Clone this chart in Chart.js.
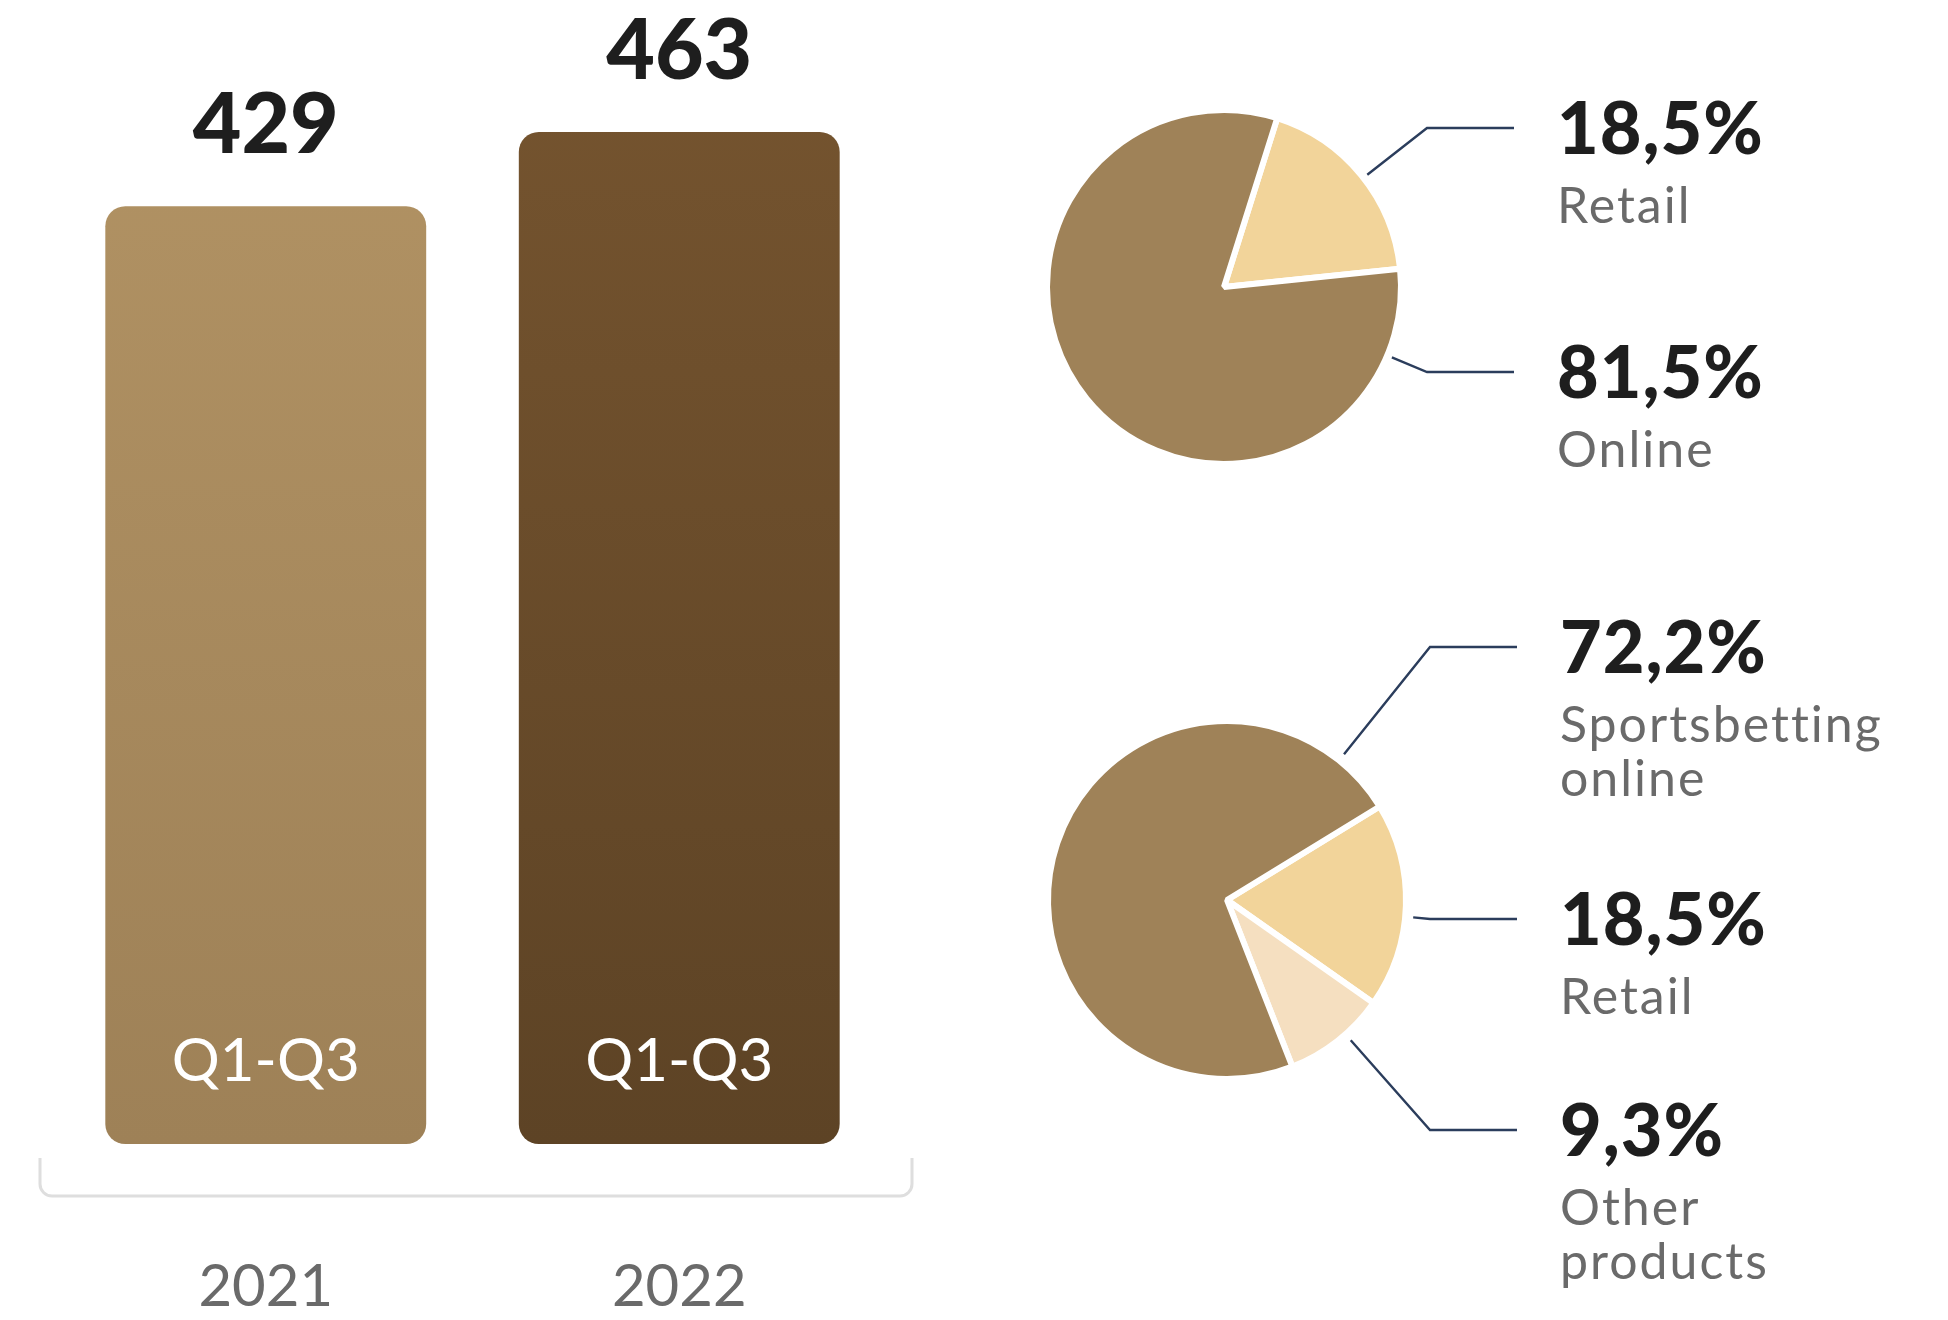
<!DOCTYPE html>
<html>
<head>
<meta charset="utf-8">
<title>Revenue Q1-Q3</title>
<script src="https://cdn.jsdelivr.net/npm/chart.js@4.4.0/dist/chart.umd.min.js"></script>
<style>
  html, body { margin: 0; padding: 0; background: #fff; }
  #wrap { position: relative; width: 1948px; height: 1320px; overflow: hidden; }
  canvas { position: absolute; }
  #bars { left: 0; top: 0; }
  #channels { left: 1000px; top: 0; }
  #products { left: 1000px; top: 613px; }
</style>
</head>
<body>
<div id="wrap">
  <canvas id="bars" width="950" height="1320"></canvas>
  <canvas id="channels" width="948" height="613"></canvas>
  <canvas id="products" width="948" height="707"></canvas>
</div>
<script>
const years = ['2021', '2022'];
const periods = ['Q1-Q3', 'Q1-Q3'];
const revenue = [429, 463];

const channelLabels = [['Retail'], ['Online']];
const channelShares = [18.5, 81.5];

const productLabels = [['Retail'], ['Other', 'products'], ['Sportsbetting', 'online']];
const productShares = [18.5, 9.3, 72.2];

const FONT = 'Lato, "Noto Sans", sans-serif';
const DARK = '#1e1e1e';
const GREY = '#6a6a6a';
const LEADER = '#2b3d5c';

const barShades = [['#b29364', '#9e8157'], ['#75542f', '#5d4325']];
const channelColours = ['#f2d49a', '#9f8258'];
const productColours = ['#f2d49a', '#f5dfc0', '#9f8258'];

const pct = v => v.toFixed(1).replace('.', ',') + '%';

// vertical gradient per bar, spanning the plot area
function barFill(ctx) {
  const { chart, dataIndex } = ctx;
  const area = chart.chartArea;
  if (!area) return barShades[dataIndex][0];
  const g = chart.ctx.createLinearGradient(0, area.top, 0, area.bottom);
  g.addColorStop(0, barShades[dataIndex][0]);
  g.addColorStop(1, barShades[dataIndex][1]);
  return g;
}

// value above each bar, period inside it, bracket under the pair
const barLabels = {
  id: 'barLabels',
  afterDatasetsDraw(chart) {
    const { ctx, chartArea, scales } = chart;
    const meta = chart.getDatasetMeta(0);
    const base = scales.y.getPixelForValue(0);
    ctx.save();
    ctx.textAlign = 'center';
    ctx.textBaseline = 'alphabetic';
    meta.data.forEach((bar, i) => {
      ctx.fillStyle = DARK;
      ctx.font = `900 84px ${FONT}`;
      ctx.fillText(String(revenue[i]), bar.x, bar.y - 53);
      ctx.fillStyle = '#ffffff';
      ctx.font = `60px ${FONT}`;
      ctx.fillText(periods[i], bar.x, base - 63);
    });

    const l = chartArea.left - 19, r = chartArea.right + 26;
    const t = base + 14, b = base + 52, rad = 12;
    ctx.strokeStyle = '#dedede';
    ctx.lineWidth = 3;
    ctx.beginPath();
    ctx.moveTo(l, t);
    ctx.lineTo(l, b - rad);
    ctx.arcTo(l, b, l + rad, b, rad);
    ctx.lineTo(r - rad, b);
    ctx.arcTo(r, b, r, b - rad, rad);
    ctx.lineTo(r, t);
    ctx.stroke();
    ctx.restore();
  }
};

// leader line + percentage + name for every slice
const callouts = {
  id: 'callouts',
  afterDatasetsDraw(chart, args, opts) {
    const { ctx } = chart;
    const meta = chart.getDatasetMeta(0);
    const values = chart.data.datasets[0].data;
    const first = meta.data[0];
    const cx = first.x, cy = first.y, r = first.outerRadius + opts.gap;
    ctx.save();
    meta.data.forEach((arc, i) => {
      const ex = cx + opts.elbowX, ey = cy + opts.elbows[i];
      const a = Math.atan2(ey - cy, ex - cx);
      ctx.strokeStyle = LEADER;
      ctx.lineWidth = 2.4;
      ctx.beginPath();
      ctx.moveTo(cx + Math.cos(a) * r, cy + Math.sin(a) * r);
      ctx.lineTo(ex, ey);
      ctx.lineTo(cx + opts.lineEnd, ey);
      ctx.stroke();

      const tx = cx + opts.textX, base = ey + 26;
      ctx.textAlign = 'left';
      ctx.textBaseline = 'alphabetic';
      ctx.fillStyle = DARK;
      ctx.letterSpacing = '1px';
      ctx.font = `900 72px ${FONT}`;
      ctx.fillText(pct(values[i]), tx, base);
      ctx.fillStyle = GREY;
      ctx.letterSpacing = '2px';
      ctx.font = `50px ${FONT}`;
      opts.names[i].forEach((line, k) => ctx.fillText(line, tx, base + 69 + k * 54));
    });
    ctx.restore();
  }
};

function pieChart(id, names, shares, colours, rotation, padding, elbows, gap) {
  return new Chart(id, {
    type: 'pie',
    data: {
      labels: names.map(n => n.join(' ')),
      datasets: [{
        data: shares,
        backgroundColor: colours,
        borderColor: '#ffffff',
        borderWidth: 6
      }]
    },
    options: {
      responsive: false,
      animation: false,
      rotation: rotation,
      layout: { padding: padding },
      plugins: {
        legend: { display: false },
        tooltip: { enabled: false },
        callouts: { names, elbows, gap, elbowX: 203, lineEnd: 290, textX: 333 }
      }
    },
    plugins: [callouts]
  });
}

function draw() {
  new Chart('bars', {
    type: 'bar',
    data: {
      labels: years,
      datasets: [{
        data: revenue,
        backgroundColor: barFill,
        borderRadius: 20,
        borderSkipped: false,
        barPercentage: 0.776,
        categoryPercentage: 1
      }]
    },
    options: {
      responsive: false,
      animation: false,
      layout: { padding: { left: 59, right: 64, top: 51, bottom: 0 } },
      plugins: { legend: { display: false }, tooltip: { enabled: false } },
      scales: {
        x: {
          grid: { display: false, drawTicks: false },
          border: { display: false },
          ticks: { color: GREY, font: { family: FONT, size: 58 }, padding: 108 },
          afterFit: s => { s.height = 176; }
        },
        y: { display: false, min: 0, max: 500 }
      }
    },
    plugins: [barLabels]
  });

  pieChart('channels', channelLabels, channelShares, channelColours, 17.5,
    { left: 44, top: 107, right: 544, bottom: 146 }, [-159, 85], 5);
  pieChart('products', productLabels, productShares, productColours, 58.5,
    { left: 45, top: 105, right: 539, bottom: 238 }, [19, 230, -253], 8);
}

document.fonts.load(`900 72px ${FONT}`).then(draw, draw);
</script>
</body>
</html>
